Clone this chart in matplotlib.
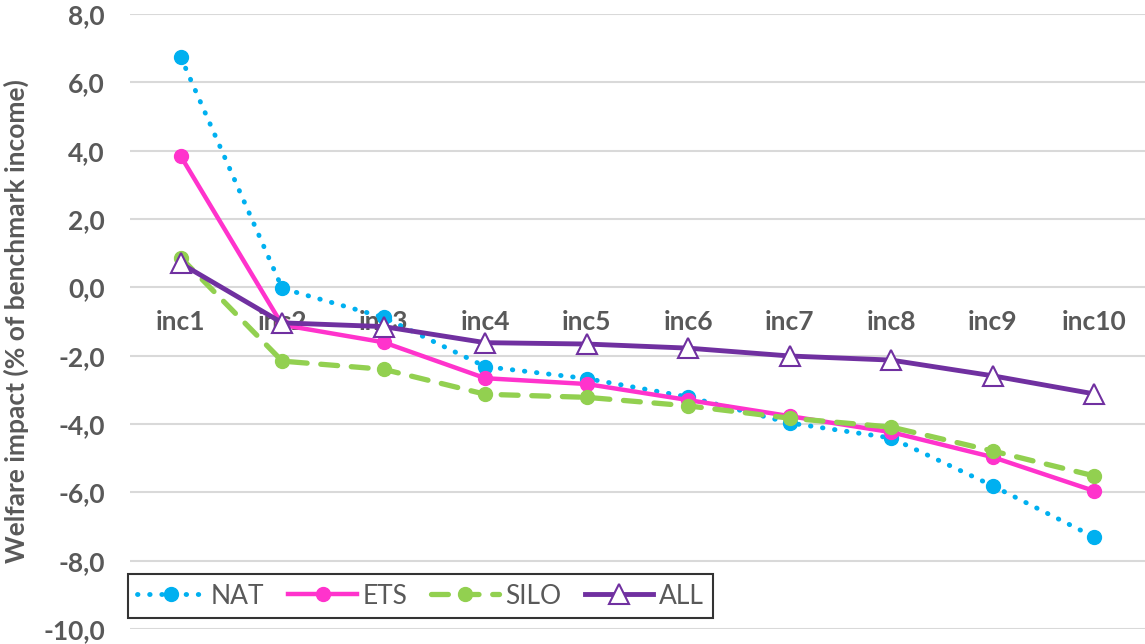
import matplotlib
matplotlib.use("Agg")
import matplotlib.pyplot as plt
from matplotlib.ticker import FuncFormatter

plt.rcParams['font.family'] = ['Lato', 'DejaVu Sans']

categories = ['inc1', 'inc2', 'inc3', 'inc4', 'inc5', 'inc6', 'inc7', 'inc8', 'inc9', 'inc10']
nat = [6.74, -0.03, -0.88, -2.32, -2.67, -3.21, -3.97, -4.41, -5.81, -7.31]
ets = [3.84, -1.10, -1.61, -2.66, -2.83, -3.30, -3.77, -4.24, -4.97, -5.96]
silo = [0.87, -2.16, -2.40, -3.13, -3.22, -3.47, -3.83, -4.09, -4.79, -5.52]
all_ = [0.70, -1.04, -1.15, -1.62, -1.66, -1.78, -2.01, -2.13, -2.59, -3.12]

fig = plt.figure(figsize=(11.45, 6.44), dpi=100)
ax = fig.add_axes([0.1135, 0.0233, 0.8865, 0.955])
x = range(len(categories))

ax.plot(x, nat, color='#00B0F0', lw=3.5, ls=(0, (0.1, 2.4)), dash_capstyle='round',
        marker='o', ms=10, label='NAT')
ax.plot(x, ets, color='#FF33CC', lw=3.2, marker='o', ms=10, label='ETS')
ax.plot(x, silo, color='#92D050', lw=3.8, ls=(0, (3.2, 2.6)), dash_capstyle='round',
        marker='o', ms=10, label='SILO')
ax.plot(x, all_, color='#7030A0', lw=3.5, marker='^', ms=14, mfc='white',
        mec='#7030A0', mew=1.5, label='ALL')

ax.set_xlim(-0.5, len(categories) - 0.5)
ax.set_ylim(-10, 8)
ax.set_yticks(range(-10, 9, 2))
ax.yaxis.set_major_formatter(FuncFormatter(lambda v, p: f'{v:.1f}'.replace('.', ',')))
ax.set_xticks(list(x))
ax.set_xticklabels(categories)
ax.grid(axis='y', color='#d9d9d9', lw=1.5)
ax.set_axisbelow(True)
for s in ['top', 'right', 'left']:
    ax.spines[s].set_visible(False)
ax.spines['bottom'].set_position(('data', 0))
ax.spines['bottom'].set_visible(False)
ax.tick_params(axis='both', length=0, labelcolor='#595959', labelsize=19)
ax.tick_params(axis='x', pad=16)
ax.tick_params(axis='y', pad=18)
for lbl in ax.get_xticklabels() + ax.get_yticklabels():
    lbl.set_fontweight('bold')

ax.set_ylabel('Welfare impact (% of benchmark income)', fontsize=19, fontweight='bold',
              color='#595959', labelpad=10)

leg = ax.legend(loc='lower left', bbox_to_anchor=(-0.002, 0.018), ncol=4, fontsize=19,
                frameon=True, fancybox=False, handlelength=2.6, columnspacing=0.9,
                handletextpad=0.2, borderpad=0.35, borderaxespad=0)
leg.get_frame().set_edgecolor('black')
leg.get_frame().set_linewidth(1.5)
for t in leg.get_texts():
    t.set_color('#595959')

fig.savefig('out.png', dpi=100)
